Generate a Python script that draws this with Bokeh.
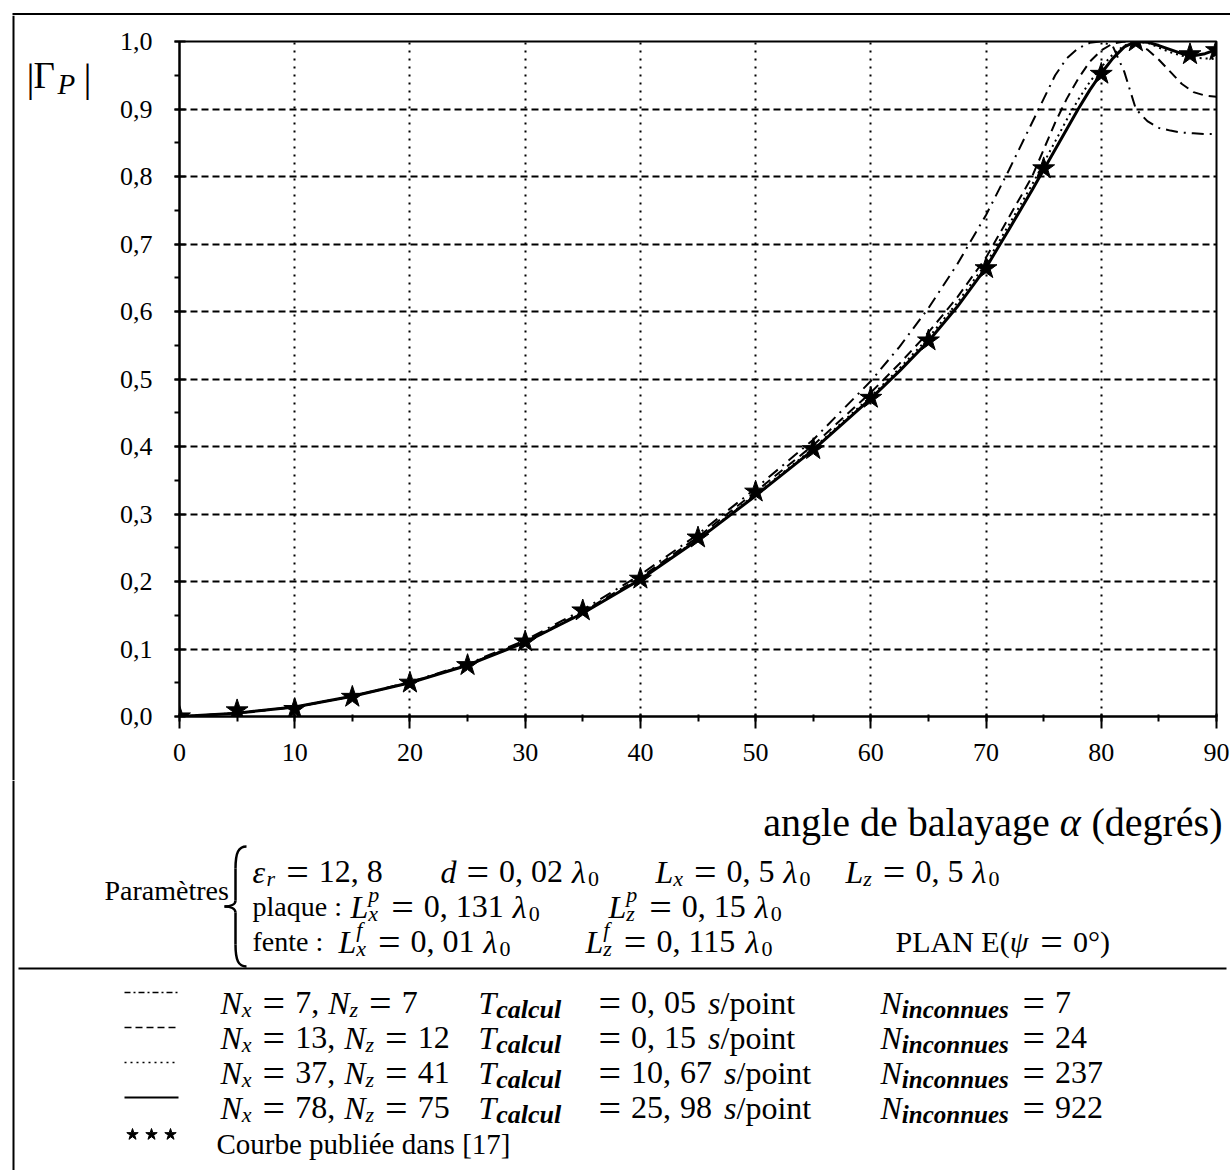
from bokeh.plotting import figure
from bokeh.layouts import column, row
from bokeh.models import Range1d, SingleIntervalTicker, CustomJSTickFormatter
from bokeh.core.properties import value
from bokeh.embed import file_html
from bokeh.resources import INLINE

# ---------------- data ----------------
alpha = [0, 5, 10, 15, 20, 25, 30, 35, 40, 45, 50, 55, 60, 62.5, 65, 67.5, 70, 72, 74, 75,
         76, 77, 78, 79, 80, 81, 82, 83, 84, 85, 86, 87, 88, 89, 90]
gamma_n7 = [0, 0.005, 0.014, 0.03, 0.051, 0.078, 0.113, 0.158, 0.21, 0.27, 0.338, 0.41, 0.497,
            0.548, 0.605, 0.67, 0.743, 0.81, 0.88, 0.915, 0.95, 0.975, 0.99, 0.998, 1.0, 0.993,
            0.955, 0.9, 0.882, 0.872, 0.868, 0.865, 0.864, 0.863, 0.863]
gamma_n13 = [0, 0.005, 0.014, 0.03, 0.05, 0.077, 0.111, 0.155, 0.206, 0.266, 0.333, 0.402, 0.48,
             0.523, 0.569, 0.621, 0.68, 0.74, 0.8, 0.84, 0.88, 0.915, 0.945, 0.97, 0.987, 0.997,
             1.0, 0.997, 0.988, 0.973, 0.955, 0.937, 0.925, 0.92, 0.918]
gamma_n37 = [0, 0.005, 0.014, 0.03, 0.05, 0.076, 0.11, 0.153, 0.204, 0.263, 0.329, 0.397, 0.474,
             0.516, 0.561, 0.613, 0.671, 0.729, 0.788, 0.82, 0.852, 0.884, 0.914, 0.94, 0.962,
             0.981, 0.994, 1.0, 0.998, 0.991, 0.984, 0.979, 0.976, 0.975, 0.974]
gamma_n78 = [0, 0.005, 0.014, 0.03, 0.05, 0.076, 0.11, 0.153, 0.203, 0.262, 0.327, 0.395, 0.471,
             0.512, 0.556, 0.607, 0.665, 0.722, 0.78, 0.81, 0.84, 0.87, 0.9, 0.928, 0.953, 0.975,
             0.992, 1.0, 0.999, 0.994, 0.988, 0.982, 0.979, 0.982, 0.988]
star_alpha = [0, 5, 10, 15, 20, 25, 30, 35, 40, 45, 50, 55, 60, 65, 70, 75, 80, 83, 87.7, 90]
star_gamma = [0.0, 0.009, 0.011, 0.029, 0.05, 0.076, 0.111, 0.157, 0.204, 0.265, 0.333, 0.396,
              0.472, 0.557, 0.664, 0.812, 0.952, 1.0, 0.981, 0.987]

leg_nx = [("7", "7"), ("13", "12"), ("37", "41"), ("78", "75")]
leg_t = [("0,", "05"), ("0,", "15"), ("10,", "67"), ("25,", "98")]
leg_n = ["7", "24", "237", "922"]

FONT = "Liberation Serif"

# ---------------- main plot ----------------
p = figure(width=1116, height=765, x_range=Range1d(0, 90), y_range=Range1d(0, 1),
           output_backend="svg", toolbar_location=None,
           min_border_left=65, min_border_right=14, min_border_top=26, min_border_bottom=64)
p.frame_align = False
p.background_fill_color = "white"
p.border_fill_color = "white"
p.outline_line_color = "black"
p.outline_line_width = 2

p.xaxis.ticker = SingleIntervalTicker(interval=10, num_minor_ticks=2)
p.yaxis.ticker = SingleIntervalTicker(interval=0.1, num_minor_ticks=2)
p.yaxis.formatter = CustomJSTickFormatter(code="return tick.toFixed(1).replace('.', ',');")
for ax in (p.xaxis[0], p.yaxis[0]):
    ax.axis_line_width = 2
    ax.axis_line_color = "black"
    ax.major_tick_line_width = 2
    ax.minor_tick_line_width = 2
    ax.major_label_text_font = FONT
    ax.major_label_text_font_size = "26px"
    ax.major_label_text_color = "black"
p.xaxis.major_tick_out = 12
p.xaxis.major_tick_in = 3
p.xaxis.minor_tick_out = 5
p.xaxis.minor_tick_in = 2
p.xaxis.major_label_standoff = 15
p.yaxis.major_tick_out = 5
p.yaxis.major_tick_in = 6
p.yaxis.minor_tick_out = 5
p.yaxis.minor_tick_in = 0
p.yaxis.major_label_standoff = 22

p.xgrid.grid_line_color = "black"
p.xgrid.grid_line_width = 2
p.xgrid.grid_line_dash = "2 6"
p.ygrid.grid_line_color = "black"
p.ygrid.grid_line_width = 2
p.ygrid.grid_line_dash = "7 4"

p.line(alpha, gamma_n7, line_color="black", line_width=2, line_dash="12 6 2 6")
p.line(alpha, gamma_n13, line_color="black", line_width=2, line_dash="10 6")
p.line(alpha, gamma_n37, line_color="black", line_width=2, line_dash="2 4")
p.line(alpha, gamma_n78, line_color="black", line_width=3)
p.scatter(star_alpha, star_gamma, marker="star", size=23, fill_color="black", line_color="black")


# ---------------- helper figures (page pixel coordinates) ----------------
def pane(x0, x1, y0, y1):
    f = figure(width=x1 - x0, height=y1 - y0, x_range=Range1d(x0, x1), y_range=Range1d(y1, y0),
               output_backend="svg", toolbar_location=None, min_border=0,
               x_axis_type=None, y_axis_type=None)
    f.frame_align = False
    f.grid.visible = False
    f.outline_line_color = None
    f.background_fill_color = "white"
    f.border_fill_color = "white"
    return f


top = pane(0, 1230, 0, 15)          # outer frame top edge
left = pane(0, 114, 15, 780)        # |Gamma_P| column
q = pane(0, 1230, 780, 1170)        # texts below the plot

W_REG = {' ': 250, '!': 333, '(': 333, ')': 333, ',': 250, '.': 250, '/': 278, ':': 278,
         '=': 564, '[': 333, ']': 333, '°': 400, '|': 200,
         'A': 722, 'C': 667, 'E': 611, 'L': 611, 'N': 722, 'P': 556, 'T': 611,
         'a': 444, 'b': 500, 'c': 444, 'd': 500, 'e': 444, 'é': 444, 'è': 444, 'f': 333,
         'g': 500, 'h': 500, 'i': 278, 'l': 278, 'm': 778, 'n': 500, 'o': 500, 'p': 500,
         'q': 500, 'r': 333, 's': 389, 't': 278, 'u': 500, 'y': 500, 'x': 500, 'z': 444,
         'α': 540, 'λ': 500, 'ψ': 690, 'ε': 440}
W_IT = {'N': 667, 'L': 556, 'T': 556, 'P': 611, 'd': 500, 's': 389, 'x': 444, 'z': 389,
        'p': 500, 'f': 278, 'i': 278, 'n': 500, 'c': 444, 'o': 500, 'u': 500, 'e': 444,
        'a': 500, 'l': 278, 'r': 389, 'α': 540, 'λ': 500, 'ψ': 690, 'ε': 440, ' ': 250}
W_BI = dict(W_IT, n=556, u=556)

M = 32      # math size
S = 22      # sub/superscript size
EQS = 40    # size of "=" sign


def tw(s, style, size):
    if style == "bold italic":
        tab = W_BI
    elif "italic" in style:
        tab = W_IT
    else:
        tab = W_REG
    return sum(tab.get(c, 500) for c in s) / 1000.0 * size


def put(f, x, y, s, style="normal", size=28):
    lead = len(s) - len(s.lstrip(" "))
    x += tw(" " * lead, "normal", size)
    s2 = s.strip(" ")
    if s2:
        f.text(x=[x], y=[y], text=[s2], text_font=value(FONT), text_font_size=value(f"{size}px"),
               text_font_style=style, text_baseline="alphabetic", text_align="left",
               text_color="black")


def runs(f, x, y, items, size=M):
    """items: (text, style) | ("sub", text, style[, size]) | ("stack", sup, sub) | ("sp", px)
    | ("eq",) | ("at", x_abs)"""
    for it in items:
        k = it[0]
        if k == "stack":
            put(f, x, y - 12, it[1], "italic", S)
            put(f, x, y + 7, it[2], "italic", S)
            x += max(tw(it[1], "italic", S), tw(it[2], "italic", S)) + 2
        elif k == "sub":
            ss = it[3] if len(it) > 3 else S
            put(f, x, y + 7, it[1], it[2], ss)
            x += tw(it[1], it[2], ss) + 1
        elif k == "sp":
            x += it[1]
        elif k == "at":
            x = max(x, it[1])
        elif k == "eq":
            x += 10
            put(f, x, y + 1, "=", "normal", EQS)
            x += tw("=", "normal", EQS) + 10
        else:
            put(f, x, y, it[0], it[1], size)
            x += tw(it[0], it[1], size)
    return x


LAM = [("sp", 9), ("λ", "italic"), ("sub", "0", "normal")]

# outer frame (left and top edges)
top.segment(x0=[12.5], y0=[13.5], x1=[1230], y1=[13.5], line_color="black", line_width=2)
for f, ya, yb in ((top, 12.5, 15), (left, 15, 780), (q, 780, 1170)):
    f.segment(x0=[13], y0=[ya], x1=[13], y1=[yb], line_color="black", line_width=2)

# |Gamma_P|
put(left, 26, 77, "|", "normal", 40)
put(left, 33, 75, "Γ", "normal", 37)
put(left, 57, 83, "P", "italic", 29)
put(left, 83, 77, "|", "normal", 40)

# x-axis title, right aligned at page x 1222
xt = [("angle de balayage ", "normal"), ("α", "italic"), (" (degrés)", "normal")]
xw = sum(tw(s, st, 40) for s, st in xt)
runs(q, 1222 - xw, 822, xt, 40)

# parameters block
put(q, 104, 890, "Paramètres", "normal", 28)
bx, bt, bb, bm = 246, 846, 966, 906
q.bezier(x0=[bx, 235], y0=[bt, bm - 6], x1=[235, 224], y1=[bt + 22, bm],
         cx0=[238, 235], cy0=[bt, bm - 2], cx1=[235, 230], cy1=[bt + 6, bm],
         line_color="black", line_width=2.5)
q.bezier(x0=[224, 235], y0=[bm, bb - 22], x1=[235, bx], y1=[bm + 6, bb],
         cx0=[230, 235], cy0=[bm, bb - 6], cx1=[235, 238], cy1=[bm + 2, bb],
         line_color="black", line_width=2.5)
q.segment(x0=[235, 235], y0=[bt + 22, bm + 6], x1=[235, 235], y1=[bm - 6, bb - 22],
          line_color="black", line_width=2.5)

y1, y2, y3 = 871, 906, 941
runs(q, 252, y1, [("ε", "italic"), ("sub", "r", "italic"), ("eq",), ("12,", "normal"),
                  ("sp", 8), ("8", "normal")])
runs(q, 440, y1, [("d", "italic"), ("eq",), ("0,", "normal"), ("sp", 8), ("02", "normal")] + LAM)
runs(q, 655, y1, [("L", "italic"), ("sub", "x", "italic"), ("eq",), ("0,", "normal"),
                  ("sp", 8), ("5", "normal")] + LAM)
runs(q, 845, y1, [("L", "italic"), ("sub", "z", "italic"), ("eq",), ("0,", "normal"),
                  ("sp", 8), ("5", "normal")] + LAM)

put(q, 252, y2, "plaque :", "normal", 28)
runs(q, 350, y2, [("L", "italic"), ("stack", "p", "x"), ("eq",), ("0,", "normal"), ("sp", 8),
                  ("131", "normal")] + LAM)
runs(q, 608, y2, [("L", "italic"), ("stack", "p", "z"), ("eq",), ("0,", "normal"), ("sp", 8),
                  ("15", "normal")] + LAM)

put(q, 252, y3, "fente :", "normal", 28)
runs(q, 338, y3, [("L", "italic"), ("stack", "f", "x"), ("eq",), ("0,", "normal"), ("sp", 8),
                  ("01", "normal")] + LAM)
runs(q, 585, y3, [("L", "italic"), ("stack", "f", "z"), ("eq",), ("0,", "normal"), ("sp", 8),
                  ("115", "normal")] + LAM)
runs(q, 895, y3, [("PLAN E(", "normal"), ("ψ", "italic"), ("eq",), ("0°)", "normal")], size=30)

# separator
q.segment(x0=[18], y0=[968], x1=[1226], y1=[968], line_color="black", line_width=2)

# legend rows
leg_dash = ["6 3 2 3", "7 4", "2 4", None]
rows_y = [1002, 1037, 1072, 1107]
for (nx, nz), (ta, tb), n, dsh, yy in zip(leg_nx, leg_t, leg_n, leg_dash, rows_y):
    if dsh is None:
        q.line([124, 178], [yy - 10, yy - 10], line_color="black", line_width=2)
    else:
        q.line([124, 178], [yy - 10, yy - 10], line_color="black", line_width=1.5, line_dash=dsh)
    runs(q, 220, yy, [("N", "italic"), ("sub", "x", "italic"), ("eq",), (nx + ",", "normal"),
                      ("sp", 9), ("N", "italic"), ("sub", "z", "italic"), ("eq",), (nz, "normal")])
    runs(q, 478, yy, [("T", "italic"), ("sub", "calcul", "bold italic", 26), ("at", 588), ("eq",),
                      (ta, "normal"), ("sp", 9), (tb, "normal"), ("sp", 12), ("s", "italic"),
                      ("/point", "normal")])
    runs(q, 880, yy, [("N", "italic"), ("sub", "inconnues", "bold italic", 25), ("at", 1012),
                      ("eq",), (n, "normal")])

q.scatter([132, 151, 170], [1134, 1134, 1134], marker="star", size=12,
          fill_color="black", line_color="black")
put(q, 216, 1143, "Courbe publiée dans [17]", "normal", 29)

layout = column(top, row(left, p, spacing=0), q, spacing=0)

open("out.html", "w").write(file_html(layout, INLINE))
